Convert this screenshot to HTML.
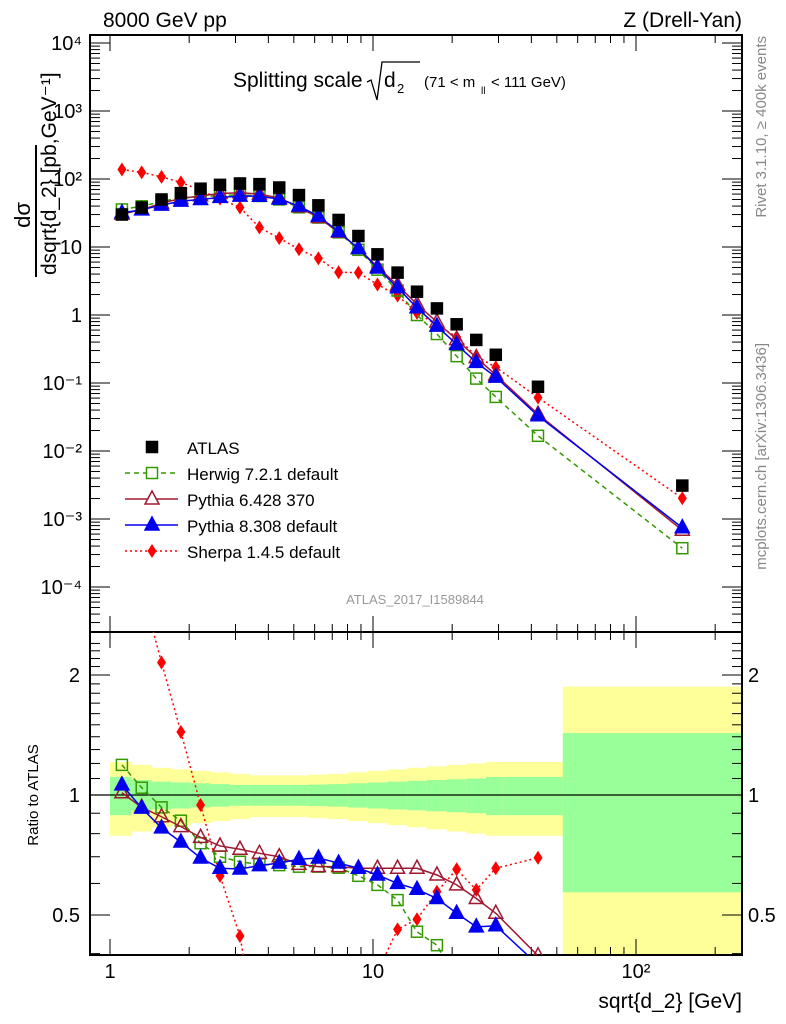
<!DOCTYPE html>
<html><head><meta charset="utf-8"><style>
html,body{margin:0;background:#fff;overflow:hidden;width:786px;height:1024px;}
svg{display:block;font-family:"Liberation Sans",Arial,sans-serif;}
</style></head><body>
<svg id="chart" width="786" height="1024" xmlns="http://www.w3.org/2000/svg"></svg>
<script>
const xVals=[1.11,1.32,1.57,1.86,2.21,2.62,3.12,3.7,4.4,5.23,6.2,7.4,8.8,10.4,12.4,14.7,17.5,20.8,24.7,29.3,42.4,150];
const binEdges=[1.0,1.21,1.44,1.71,2.03,2.41,2.86,3.4,4.04,4.8,5.7,6.77,8.05,9.56,11.4,13.5,16.0,19.1,22.7,26.9,31.0,52.7,253];
const atlas=[30,38,50,62,72,82,86,84,75,58,41,25,14.5,7.8,4.2,2.2,1.25,0.73,0.43,0.26,0.088,0.0031];
const herwigRatio=[1.19,1.043,0.931,0.862,0.757,0.7,0.68,0.67,0.667,0.661,0.661,0.657,0.627,0.595,0.545,0.454,0.42,0.34,0.27,0.24,0.19,0.12];
const py6Ratio=[1.013,0.931,0.882,0.833,0.783,0.745,0.731,0.714,0.7,0.67,0.661,0.661,0.655,0.655,0.655,0.655,0.63,0.595,0.55,0.505,0.395,0.22];
const py8Ratio=[1.06,0.927,0.827,0.762,0.695,0.655,0.652,0.665,0.675,0.69,0.695,0.675,0.655,0.63,0.6,0.58,0.55,0.505,0.467,0.47,0.375,0.24];
const sherpaRatio=[4.6,3.3,2.15,1.44,0.944,0.627,0.443,0.23,0.18,0.16,0.166,0.17,0.29,0.36,0.46,0.488,0.572,0.651,0.578,0.655,0.696,0.65];
const greenHW=[0.11,0.09,0.08,0.075,0.07,0.065,0.06,0.06,0.06,0.06,0.062,0.065,0.07,0.075,0.08,0.085,0.09,0.095,0.1,0.11,0.11,0.43];
const yellowHW=[0.21,0.19,0.17,0.16,0.15,0.14,0.13,0.12,0.12,0.12,0.125,0.13,0.14,0.15,0.16,0.17,0.18,0.19,0.2,0.21,0.21,0.87];
const yTickLabels=["10⁻⁴","10⁻³","10⁻²","10⁻¹","1","10","10²","10³","10⁴"];

const NS="http://www.w3.org/2000/svg";
const svg=document.getElementById('chart');
const L=90,R=742,T=35,MB=632,RB=955;
const X=v=>110+263*Math.log10(v);
const Y=v=>315-68*Math.log10(v);
const YR=r=>795-120*Math.log2(r);
function el(tag,attrs,parent){const e=document.createElementNS(NS,tag);for(const k in attrs)e.setAttribute(k,attrs[k]);(parent||svg).appendChild(e);return e;}
function txt(s,attrs,parent){const e=el('text',attrs,parent);e.textContent=s;return e;}

const defs=el('defs',{});
const c1=el('clipPath',{id:'cm'},defs);el('rect',{x:L,y:T,width:R-L,height:MB-T},c1);
const c2=el('clipPath',{id:'cr'},defs);el('rect',{x:L,y:MB,width:R-L,height:RB-MB},c2);

const bands=el('g',{'clip-path':'url(#cr)'});


for(let i=0;i<xVals.length;i++){
  const x0=X(binEdges[i]),x1=X(binEdges[i+1]);
  const yl=el('rect',{x:x0,y:YR(1+yellowHW[i]),width:x1-x0+0.5,height:YR(Math.max(1-yellowHW[i],0.05))-YR(1+yellowHW[i]),fill:'#ffff99'},bands);
  
  
  const gr=el('rect',{x:x0,y:YR(1+greenHW[i]),width:x1-x0+0.5,height:YR(1-greenHW[i])-YR(1+greenHW[i]),fill:'#99ff99'},bands);
  
  
}
el('line',{x1:L,x2:R,y1:YR(1),y2:YR(1),stroke:'#000','stroke-width':1.2});

el('rect',{x:L,y:T,width:R-L,height:MB-T,fill:'none',stroke:'#000','stroke-width':2});
el('rect',{x:L,y:MB,width:R-L,height:RB-MB,fill:'none',stroke:'#000','stroke-width':2});

const tg=el('g',{stroke:'#000','stroke-width':1});
for(let d=0;d<3;d++)for(let m=1;m<10;m++){const v=m*Math.pow(10,d);const x=X(v);if(x<L||x>R)continue;const len=m==1?16:8;
  [[T,T+len],[MB,MB-len],[MB,MB+len],[RB,RB-len]].forEach(p=>el('line',{x1:x,x2:x,y1:p[0],y2:p[1]},tg));}
for(let d=-5;d<5;d++)for(let m=1;m<10;m++){const v=m*Math.pow(10,d);const y=Y(v);if(y<T||y>MB)continue;const len=m==1?20:10;
  el('line',{x1:L,x2:L+len,y1:y,y2:y},tg);el('line',{x1:R,x2:R-len,y1:y,y2:y},tg);}
for(let r=0.4;r<=2.5;r+=0.1){const y=YR(r);if(y<MB||y>RB)continue;const maj=Math.abs(r-0.5)<1e-6||Math.abs(r-1)<1e-6||Math.abs(r-2)<1e-6;const len=maj?20:10;
  el('line',{x1:L,x2:L+len,y1:y,y2:y},tg);el('line',{x1:R,x2:R-len,y1:y,y2:y},tg);}

yTickLabels.forEach((s,i)=>{const t=txt(s,{x:82,y:Y(Math.pow(10,i-4))+7,'font-size':20,'text-anchor':'end'});

});
[["1",1],["10",10],["10²",100]].forEach(p=>{const t=txt(p[0],{x:X(p[1]),y:978,'font-size':20,'text-anchor':'middle'});

});
[["2",2],["1",1],["0.5",0.5]].forEach(p=>{
  const a=txt(p[0],{x:80,y:YR(p[1])+7,'font-size':20,'text-anchor':'end'});
  
  
  const b=txt(p[0],{x:748,y:YR(p[1])+7,'font-size':20});
  
  });

function series(name,vals,color,dash,marker,clip,yf){
  const g=el('g',{'clip-path':clip});
  
  
  const pts=vals.map((v,i)=>[X(xVals[i]),yf(v)]);
  if(color){el('polyline',{points:pts.map(p=>p.join(',')).join(' '),fill:'none',stroke:color,'stroke-width':1.5,'stroke-dasharray':dash||''},g);}
  pts.forEach(p=>marker(p[0],p[1],g));
  return g;
}
const mSq=(c,fill)=>(x,y,g)=>el('rect',{x:x-5.5,y:y-5.5,width:11,height:11,fill:fill,stroke:c,'stroke-width':1.5},g);
const mTri=(c,fill)=>(x,y,g)=>el('polygon',{points:`${x},${y-8} ${x-7},${y+5} ${x+7},${y+5}`,fill:fill,stroke:c,'stroke-width':1.5},g);
const mDia=(c)=>(x,y,g)=>el('polygon',{points:`${x},${y-7} ${x+4.5},${y} ${x},${y+7} ${x-4.5},${y}`,fill:c},g);

const mk=(r)=>atlas.map((a,i)=>a*r[i]);
series('sherpa-main',mk(sherpaRatio),'#ff0000','2,3',mDia('#ff0000'),'url(#cm)',Y);
series('herwig-main',mk(herwigRatio),'#339900','5,4',mSq('#339900','none'),'url(#cm)',Y);
series('pythia6-main',mk(py6Ratio),'#a01830','',mTri('#a01830','none'),'url(#cm)',Y);
series('pythia8-main',mk(py8Ratio),'#0000ee','',mTri('#0000ee','#0000ee'),'url(#cm)',Y);
series('atlas-data',atlas,null,'',mSq('#000','#000'),'url(#cm)',Y);
const cut=a=>a.slice(0,21);
const ratioSeries=(name,r,c,d,m)=>{const g=el('g',{'clip-path':'url(#cr)'});
  
  
  const v=cut(r);const pts=v.map((x,i)=>[X(xVals[i]),YR(x)]);
  el('polyline',{points:pts.map(p=>p.join(',')).join(' '),fill:'none',stroke:c,'stroke-width':1.5,'stroke-dasharray':d},g);
  pts.forEach(p=>m(p[0],p[1],g));};
ratioSeries('sherpa-ratio',sherpaRatio,'#ff0000','2,3',mDia('#ff0000'));
ratioSeries('herwig-ratio',herwigRatio,'#339900','5,4',mSq('#339900','none'));
ratioSeries('pythia6-ratio',py6Ratio,'#a01830','',mTri('#a01830','none'));
ratioSeries('pythia8-ratio',py8Ratio,'#0000ee','',mTri('#0000ee','#0000ee'));

const leg=el('g',{});


const items=[["ATLAS",null,'',mSq('#000','#000')],["Herwig 7.2.1 default",'#339900','5,4',mSq('#339900','#fff')],["Pythia 6.428 370",'#a01830','',mTri('#a01830','#fff')],["Pythia 8.308 default",'#0000ee','',mTri('#0000ee','#0000ee')],["Sherpa 1.4.5 default",'#ff0000','2,3',mDia('#ff0000')]];
items.forEach((it,i)=>{const y=447+26*i;const g=el('g',{},leg);
  
  
  if(it[1])el('line',{x1:125,x2:178,y1:y,y2:y,stroke:it[1],'stroke-width':1.5,'stroke-dasharray':it[2]},g);
  it[3](152,y,g);
  txt(it[0],{x:187,y:y+7,'font-size':17},g);});

const T1=txt('8000 GeV pp',{x:103,y:27,'font-size':21});
const T2=txt('Z (Drell-Yan)',{x:742,y:27,'font-size':21,'text-anchor':'end'});
const ti=el('g',{});
txt('Splitting scale',{x:233,y:87,'font-size':21},ti);
el('polyline',{points:'367,82 371,80 377,100 382,62 420,62',fill:'none',stroke:'#000','stroke-width':1.3},ti);
txt('d',{x:384,y:87,'font-size':21},ti);txt('2',{x:397,y:93,'font-size':13},ti);
txt('(71 < m',{x:424,y:87,'font-size':15},ti);txt('ll',{x:481,y:94,'font-size':10},ti);txt('< 111 GeV)',{x:491,y:87,'font-size':15},ti);
const w=txt('ATLAS_2017_I1589844',{x:415,y:604,'font-size':13,fill:'#999','text-anchor':'middle'});
const r1=txt('Rivet 3.1.10, ≥ 400k events',{x:0,y:0,'font-size':15,fill:'#888','text-anchor':'end',transform:'translate(766,36) rotate(-90)'});
const r2=txt('mcplots.cern.ch [arXiv:1306.3436]',{x:0,y:0,'font-size':15,fill:'#888','text-anchor':'end',transform:'translate(766,343) rotate(-90)'});
const xl=txt('sqrt{d_2} [GeV]',{x:742,y:1008,'font-size':21,'text-anchor':'end'});
const rl=txt('Ratio to ATLAS',{x:0,y:0,'font-size':15,'text-anchor':'middle',transform:'translate(38,795) rotate(-90)'});
const yl=el('g',{transform:'translate(36,205) rotate(-90)'});
txt('dσ',{x:-10,y:-6,'font-size':22,'text-anchor':'middle'},yl);
el('line',{x1:-72,x2:60,y1:0,y2:0,stroke:'#000','stroke-width':2},yl);
txt('dsqrt{d_2} [pb,GeV⁻¹]',{x:-70,y:20,'font-size':21},yl);
</script>
</body></html>
